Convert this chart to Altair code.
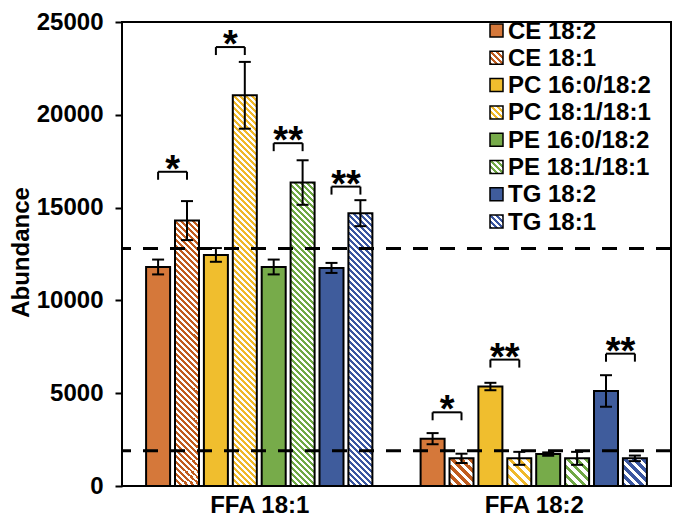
import math
import altair as alt
import pandas as pd

# ---------------- data ----------------
groups = ["FFA 18:1", "FFA 18:2"]
series = ["CE 18:2", "CE 18:1", "PC 16:0/18:2", "PC 18:1/18:1",
          "PE 16:0/18:2", "PE 18:1/18:1", "TG 18:2", "TG 18:1"]
hatched = [False, True, False, True, False, True, False, True]
solid_colors = ["#D5783A", "#C05C1E", "#F0BE2E", "#F0B82A",
                "#77AB4A", "#6FA844", "#3F5C9C", "#3A56A0"]

values_ffa181 = [11800, 14300, 12450, 21050, 11800, 16350, 11750, 14700]
errors_ffa181 = [400, 1050, 370, 1800, 400, 1200, 270, 700]
values_ffa182 = [2550, 1490, 5360, 1490, 1720, 1490, 5120, 1490]
errors_ffa182 = [300, 250, 200, 350, 90, 350, 850, 150]

dashed_levels = [12800, 1900]

sig_group = [0, 0, 0, 0, 1, 1, 1]
sig_left = [0, 2, 4, 6, 0, 2, 6]
sig_level = [16930, 23650, 18470, 16130, 3970, 6810, 7130]
sig_text = ["*", "*", "**", "**", "*", "**", "**"]

y_ticks = [0, 5000, 10000, 15000, 20000, 25000]

# ---------------- layout / style ----------------
W, H = 549, 464
YMAX = 25000
UNIT_PX = W / len(groups)
PITCH = 28.9 / UNIT_PX      # bar spacing in group units
BARW = 24 / UNIT_PX         # bar width in group units
CAPW = 12 / UNIT_PX         # error cap width in group units
DROP = 430                  # bracket end length (data units)
FONT = "Liberation Sans"
FS = 24

xscale = alt.Scale(domain=[0, len(groups)], nice=False, zero=False)
yscale = alt.Scale(domain=[0, YMAX], nice=False)

yaxis = alt.Axis(values=y_ticks, format="d", labelFont=FONT, labelFontSize=FS,
                 labelFontWeight="bold", labelColor="black", labelPadding=12,
                 tickSize=7, tickWidth=2, tickColor="black", domain=False, grid=False,
                 title="Abundance", titleFont=FONT, titleFontSize=FS,
                 titleFontWeight="bold", titleColor="black", titleX=-101, titleY=230,
                 titleBaseline="middle", titleAngle=270)
label_expr = " : ".join([f"datum.value < {g + 1} ? '{name}'" for g, name in enumerate(groups[:-1])]) + f" : '{groups[-1]}'"
xaxis = alt.Axis(values=[g + 0.5 for g in range(len(groups))], labelExpr=label_expr,
                 labelFont=FONT, labelFontSize=FS, labelFontWeight="bold",
                 labelColor="black", labelPadding=7, ticks=False, domain=False,
                 grid=False, title=None)


def X(f):
    return alt.X(f, scale=xscale, axis=xaxis)


def Y(f):
    return alt.Y(f, scale=yscale, axis=yaxis)


rows = []
for g, (vals, errs) in enumerate([(values_ffa181, errors_ffa181),
                                  (values_ffa182, errors_ffa182)]):
    for i, s in enumerate(series):
        xc = g + 0.5 + (i - 3.5) * PITCH
        rows.append(dict(group=groups[g], g=g, i=i, series=s, value=vals[i],
                         err=errs[i], xc=xc, x0=xc - BARW / 2, x1=xc + BARW / 2,
                         c0=xc - CAPW / 2, c1=xc + CAPW / 2,
                         lo=vals[i] - errs[i], hi=vals[i] + errs[i],
                         color=solid_colors[i], hatched=hatched[i]))
bars = pd.DataFrame(rows)


def hatch(color, w, h, period):
    k = (w + h) / (w * w + h * h)
    n_per = (w + h) / period
    stops = []
    for j in range(int(math.ceil(n_per))):
        a = min(j / n_per, 1.0)
        b = min((j + 0.5) / n_per, 1.0)
        c = min((j + 1) / n_per, 1.0)
        stops += [{"offset": a, "color": color}, {"offset": b, "color": color},
                  {"offset": b, "color": "#ffffff"}, {"offset": c, "color": "#ffffff"}]
    return {"gradient": "linear", "x1": 0, "y1": 1, "x2": k * w, "y2": 1 - k * h,
            "stops": stops}


solid = alt.Chart(bars[~bars.hatched]).mark_rect(stroke="black", strokeWidth=2).encode(
    x=X("x0:Q"), x2="x1:Q", y=Y("value:Q"), y2=alt.datum(0),
    color=alt.Color("color:N", scale=None),
)

layers = [solid]
for _, r in bars[bars.hatched].iterrows():
    hpx = r.value / YMAX * H
    wpx = BARW * UNIT_PX
    period = 6 if r.g == 0 else 9
    layers.append(
        alt.Chart(pd.DataFrame([r.to_dict()])).mark_rect(
            stroke="black", strokeWidth=2, fill=hatch(r.color, wpx, hpx, period)
        ).encode(x=X("x0:Q"), x2="x1:Q", y=Y("value:Q"), y2=alt.datum(0))
    )

dash_df = pd.DataFrame({"level": dashed_levels})
layers.append(alt.Chart(dash_df).mark_rule(color="black", strokeWidth=3, strokeDash=[15, 12]).encode(
    y=Y("level:Q")))

err_base = alt.Chart(bars)
layers.append(err_base.mark_rule(color="black", strokeWidth=2).encode(
    x=X("xc:Q"), y=Y("lo:Q"), y2="hi:Q"))
layers.append(err_base.mark_rule(color="black", strokeWidth=2).encode(
    x=X("c0:Q"), x2="c1:Q", y=Y("lo:Q")))
layers.append(err_base.mark_rule(color="black", strokeWidth=2).encode(
    x=X("c0:Q"), x2="c1:Q", y=Y("hi:Q")))

sig_rows = []
for g, i, lv, t in zip(sig_group, sig_left, sig_level, sig_text):
    xa = g + 0.5 + (i - 3.5) * PITCH
    xb = g + 0.5 + (i + 1 - 3.5) * PITCH
    sig_rows.append(dict(xa=xa, xb=xb, xm=(xa + xb) / 2, lv=lv, lv0=lv - DROP, t=t))
sig = pd.DataFrame(sig_rows)
sig_base = alt.Chart(sig)
layers.append(sig_base.mark_rule(color="black", strokeWidth=2).encode(
    x=X("xa:Q"), x2="xb:Q", y=Y("lv:Q")))
layers.append(sig_base.mark_rule(color="black", strokeWidth=2).encode(
    x=X("xa:Q"), y=Y("lv:Q"), y2="lv0:Q"))
layers.append(sig_base.mark_rule(color="black", strokeWidth=2).encode(
    x=X("xb:Q"), y=Y("lv:Q"), y2="lv0:Q"))
layers.append(sig_base.mark_text(font=FONT, fontSize=38, fontWeight="bold", color="black",
                                 baseline="alphabetic", align="center", dy=10).encode(
    x=X("xm:Q"), y=Y("lv:Q"), text="t:N"))

# ---------------- legend (pixel layout converted to data units) ----------------
LEG_X0, LEG_SW, LEG_TX = 368, 13, 386
LEG_ROW0, LEG_STEP = 8.5, 27.3


def px2x(p):
    return p / UNIT_PX


def py2y(p):
    return YMAX * (1 - p / H)


leg_rows = []
for i, s in enumerate(series):
    cy = LEG_ROW0 + i * LEG_STEP
    leg_rows.append(dict(name=s, color=solid_colors[i], hatched=hatched[i],
                         sx0=px2x(LEG_X0), sx1=px2x(LEG_X0 + LEG_SW),
                         sy0=py2y(cy - LEG_SW / 2), sy1=py2y(cy + LEG_SW / 2),
                         tx=px2x(LEG_TX), ty=py2y(cy + 8)))
leg = pd.DataFrame(leg_rows)
layers.append(alt.Chart(leg[~leg.hatched]).mark_rect(stroke="black", strokeWidth=1.5).encode(
    x=X("sx0:Q"), x2="sx1:Q", y=Y("sy0:Q"), y2="sy1:Q",
    color=alt.Color("color:N", scale=None)))
for _, r in leg[leg.hatched].iterrows():
    layers.append(alt.Chart(pd.DataFrame([r.to_dict()])).mark_rect(
        stroke="black", strokeWidth=1.5, fill=hatch(r.color, LEG_SW, LEG_SW, 6)).encode(
        x=X("sx0:Q"), x2="sx1:Q", y=Y("sy0:Q"), y2="sy1:Q"))
layers.append(alt.Chart(leg).mark_text(font=FONT, fontSize=FS, fontWeight="bold",
                                       color="black", align="left",
                                       baseline="alphabetic").encode(
    x=X("tx:Q"), y=Y("ty:Q"), text="name:N"))

chart = alt.layer(*layers).properties(
    width=W, height=H,
    autosize=alt.AutoSizeParams(type="none"),
    padding={"left": 114, "top": 14, "right": 1, "bottom": 32},
    background="white",
).configure_view(stroke="black", strokeWidth=2)

chart.save("out.html", embed_options={"renderer": "svg", "actions": False})
